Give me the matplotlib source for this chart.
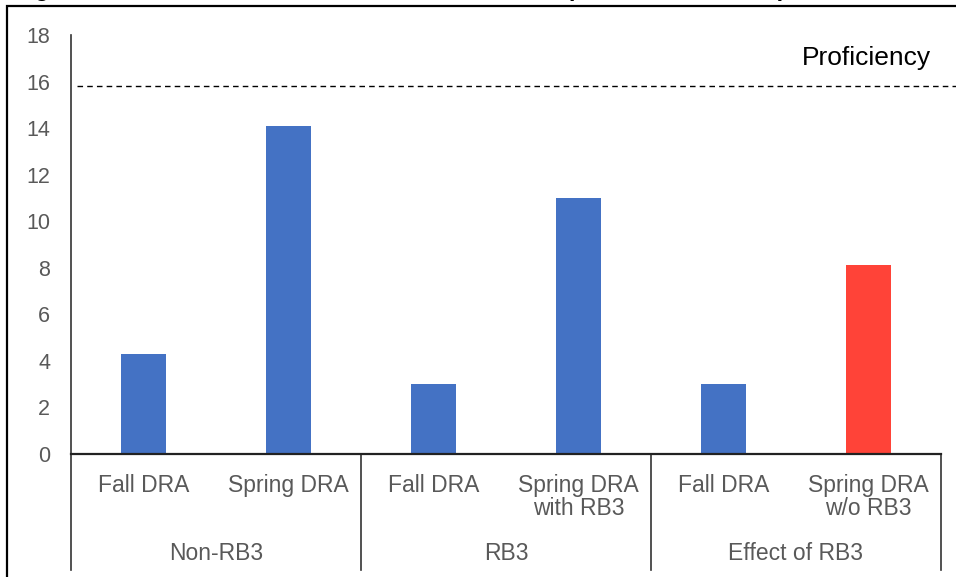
import matplotlib
matplotlib.use("Agg")
import matplotlib.pyplot as plt
from matplotlib.patches import Rectangle
from matplotlib.transforms import blended_transform_factory

plt.rcParams['font.family'] = ['Liberation Sans', 'DejaVu Sans']

# DRA scores for one student, split into three groups of two bars
groups = ["Non-RB3", "RB3", "Effect of RB3"]
labels = ["Fall DRA", "Spring DRA", "Fall DRA", "Spring DRA\nwith RB3",
          "Fall DRA", "Spring DRA\nw/o RB3"]
scores = [4.3, 14.1, 3.0, 11.0, 3.0, 8.1]
proficiency = 15.8
yticks = [0, 2, 4, 6, 8, 10, 12, 14, 16, 18]

blue = "#4472C4"
red = "#FF4338"
grey = "#595959"
colors = [blue, blue, blue, blue, blue, red]

W, H = 956, 577
fig = plt.figure(figsize=(W / 100, H / 100), dpi=100)
ax = fig.add_axes([71 / W, 123 / H, 870 / W, 419 / H])

x = list(range(len(scores)))
ax.bar(x, scores, width=0.31, color=colors, zorder=2)

ax.set_xlim(-0.5, len(scores) - 0.5)
ax.set_ylim(0, 18)
ax.set_yticks(yticks)
ax.set_yticklabels([str(t) for t in yticks], fontsize=15.5, color=grey)
ax.tick_params(axis='y', length=0, pad=15)
ax.set_xticks([])

for side in ['top', 'right']:
    ax.spines[side].set_visible(False)
ax.spines['left'].set_color('#333333')
ax.spines['bottom'].set_color('#222222')
ax.spines['left'].set_linewidth(1.2)
ax.spines['bottom'].set_linewidth(1.6)

# proficiency threshold, runs past the plot area on the right
ax.axhline(proficiency, xmin=0.007, xmax=1.02, color='black', lw=1.0,
           ls=(0, (4, 3)), clip_on=False, zorder=3)
ax.text(0.988, 17.0, "Proficiency", transform=blended_transform_factory(ax.transAxes, ax.transData),
        ha='right', va='center', fontsize=19, color='black')

# category and group labels under the axis
trans = blended_transform_factory(ax.transData, ax.transAxes)
for i, lab in enumerate(labels):
    ax.text(i, -0.048, lab, transform=trans, ha='center', va='top',
            fontsize=16.5, color=grey, linespacing=0.98)
for g, name in enumerate(groups):
    ax.text(2 * g + 0.5, -0.2365, name, transform=trans, ha='center',
            va='center', fontsize=16.5, color=grey)
for g in range(len(groups) + 1):
    ax.plot([2 * g - 0.5, 2 * g - 0.5], [0, -0.277], transform=trans,
            color='#333333', lw=1.2, clip_on=False)

# outer frame and the title above it
fig.patches.append(Rectangle((7 / W, -0.05), 1.2, 1 - 6 / H + 0.05,
                             transform=fig.transFigure, fill=False,
                             edgecolor='black', lw=1.6))
fig.text(14 / W, 1 + 4 / H,
         "Figure 3: Results of Grade 1 DRA Scores for RB3 (Individual Student)",
         ha='left', va='baseline', fontsize=16.9, fontweight='bold')

fig.savefig("out.png", dpi=100)
